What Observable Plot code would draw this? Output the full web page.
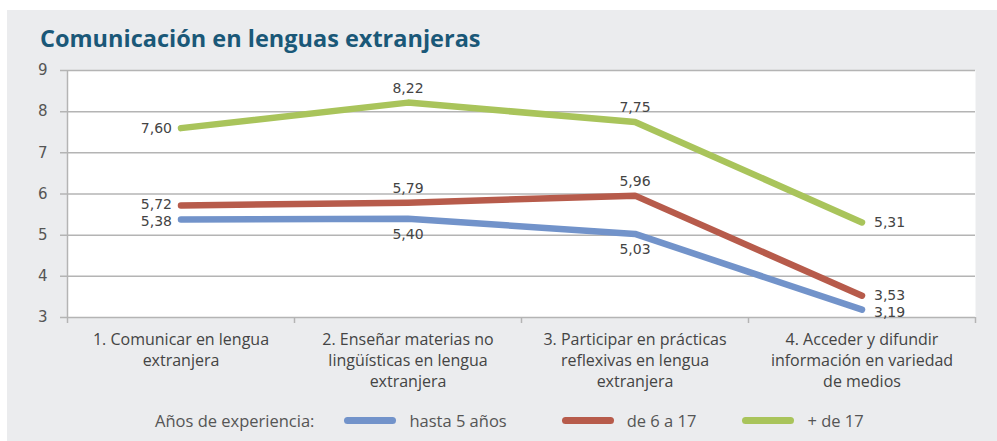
<!DOCTYPE html>
<html><head><meta charset="utf-8">
<script src="https://cdn.jsdelivr.net/npm/d3@7"></script>
<script src="https://cdn.jsdelivr.net/npm/@observablehq/plot@0.6"></script>
<style>
body{margin:0;background:#fff;width:997px;height:441px;overflow:hidden;position:relative;font-family:"Open Sans",sans-serif}
#panel{position:absolute;left:7px;top:10px;width:990px;height:431px;background:#ebecee}
#title{position:absolute;left:40px;top:24px;font-weight:700;font-size:23.5px;color:#1a5878;line-height:28px;white-space:nowrap}
#chart{position:absolute;left:0;top:60px}
#legend{position:absolute;left:155px;top:408px;height:24px;display:flex;align-items:center;font-family:"Open Sans",sans-serif;font-size:16.5px;color:#555;white-space:nowrap}
.sw{display:inline-block;width:52px;height:7px;border-radius:4px}
</style></head>
<body>
<div id="panel"></div>
<div id="title">Comunicación en lenguas extranjeras</div>
<div id="chart"></div>
<div id="legend"></div>
<script>
const categories = [
  "1. Comunicar en lengua\nextranjera",
  "2. Enseñar materias no\nlingüísticas en lengua\nextranjera",
  "3. Participar en prácticas\nreflexivas en lengua\nextranjera",
  "4. Acceder y difundir\ninformación en variedad\nde medios"
];
const series = ["hasta 5 años", "de 6 a 17", "+ de 17"];
const hasta5 = [5.38, 5.40, 5.03, 3.19];
const de6a17 = [5.72, 5.79, 5.96, 3.53];
const mas17 = [7.60, 8.22, 7.75, 5.31];
const yTicks = [3, 4, 5, 6, 7, 8, 9];
const legendTitle = "Años de experiencia:";

const colors = ["#7293ca", "#b75b4b", "#a9c45b"];
const placements = [
  ["left-down", "below", "below", "right-down"],
  ["left-up", "above", "above", "right-up"],
  ["left", "above", "above", "right"]
];

const values = [hasta5, de6a17, mas17];
const rows = [];
values.forEach((vals, s) => vals.forEach((v, i) => rows.push({x: i + 0.5, y: v, s: series[s], pos: placements[s][i]})));
const fmt = d => d.y.toFixed(2).replace(".", ",");
const numFont = "'DejaVu Sans',sans-serif";
const labelStyle = {text: fmt, fill: "#444", fontSize: 14, fontFamily: numFont};
const at = p => rows.filter(d => d.pos === p);

const chart = Plot.plot({
  width: 997, height: 340,
  marginLeft: 67, marginRight: 22, marginTop: 10, marginBottom: 83,
  x: {domain: [0, 4], axis: null},
  y: {domain: [3, 9], axis: null},
  color: {domain: series, range: colors},
  style: {background: "transparent", fontFamily: "'Open Sans',sans-serif", fontSize: "15px", color: "#444"},
  marks: [
    Plot.frame({fill: "white", stroke: null}),
    Plot.ruleY(yTicks, {stroke: "#b4b4b4", strokeWidth: 1.5, insetLeft: -7}),
    Plot.ruleX([0], {stroke: "#b4b4b4", strokeWidth: 1.5, insetBottom: -6}),
    Plot.axisX({ticks: [1, 2, 3, 4], tickFormat: () => "", tickSize: 6, stroke: "#b4b4b4", strokeWidth: 1.5, label: null}),
    Plot.axisY({ticks: yTicks, tickSize: 0, tickPadding: 20, fontSize: 15, fill: "#555", fontFamily: numFont, tickFormat: d => String(d), label: null}),
    Plot.text(categories, {x: (d, i) => i + 0.5, y: () => 3, dy: 13, lineAnchor: "top", lineHeight: 1.3, fontSize: 16, fill: "#444"}),
    Plot.line(rows, {x: "x", y: "y", z: "s", stroke: "s", strokeWidth: 6.5, strokeLinecap: "round", strokeLinejoin: "round"}),
    Plot.text(at("left"), {x: "x", y: "y", ...labelStyle, textAnchor: "end", dx: -9}),
    Plot.text(at("left-up"), {x: "x", y: "y", ...labelStyle, textAnchor: "end", dx: -9, dy: -1.5}),
    Plot.text(at("left-down"), {x: "x", y: "y", ...labelStyle, textAnchor: "end", dx: -9, dy: 1.5}),
    Plot.text(at("right"), {x: "x", y: "y", ...labelStyle, textAnchor: "start", dx: 12}),
    Plot.text(at("right-up"), {x: "x", y: "y", ...labelStyle, textAnchor: "start", dx: 12, dy: 0}),
    Plot.text(at("right-down"), {x: "x", y: "y", ...labelStyle, textAnchor: "start", dx: 12, dy: 3}),
    Plot.text(at("above"), {x: "x", y: "y", ...labelStyle, dy: -14}),
    Plot.text(at("below"), {x: "x", y: "y", ...labelStyle, dy: 16})
  ]
});
document.getElementById("chart").appendChild(chart);

const legend = document.getElementById("legend");
const t = document.createElement("span");
t.textContent = legendTitle;
t.style.marginRight = "30px";
legend.appendChild(t);
const gaps = [55, 46, 0];
series.forEach((s, i) => {
  const sw = document.createElement("span");
  sw.className = "sw";
  sw.style.background = colors[i];
  sw.style.marginRight = "13px";
  legend.appendChild(sw);
  const l = document.createElement("span");
  l.textContent = s;
  l.style.marginRight = gaps[i] + "px";
  legend.appendChild(l);
});
</script>
</body></html>
